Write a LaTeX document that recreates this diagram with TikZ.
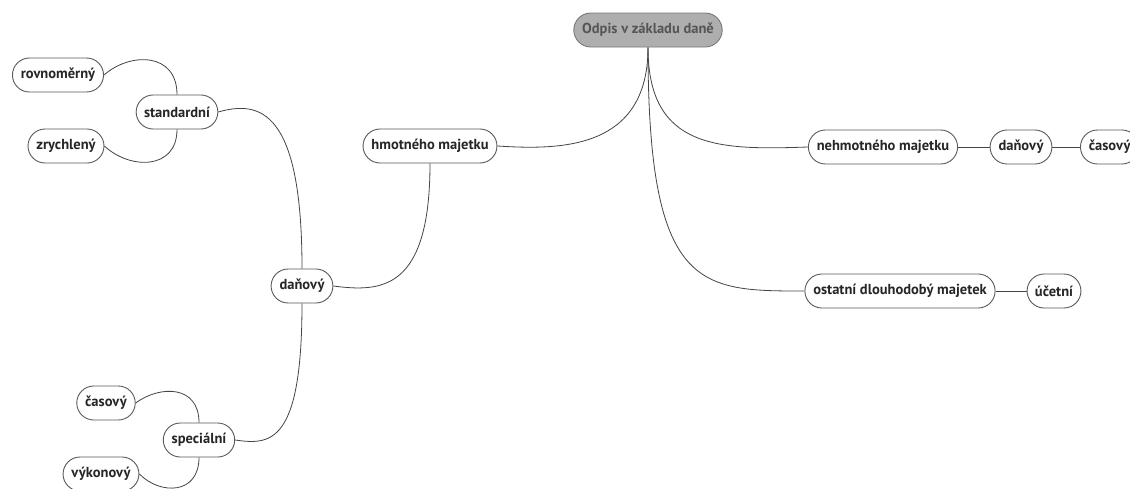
\documentclass[tikz,border=0pt]{standalone}
\usepackage{fontspec}
\setmainfont{PT Sans}
\usetikzlibrary{shapes.misc}
\pgfdeclarelayer{bg}
\pgfsetlayers{bg,main}
\definecolor{edge}{HTML}{444444}
\definecolor{nodeline}{HTML}{5A5A5A}
\definecolor{rootfill}{HTML}{AEAEAE}
\definecolor{rootline}{HTML}{7A7A7A}
\definecolor{roottext}{HTML}{555555}
\tikzset{
  topic/.style={draw=nodeline, line width=0.9pt, rounded rectangle, fill=white,
    font=\bfseries\fontsize{14.5}{16}\selectfont, text=black!85,
    minimum height=34pt, inner xsep=7pt, inner ysep=0pt},
  rootnode/.style={topic, fill=rootfill, draw=rootline, text=roottext},
  link/.style={draw=edge, line width=0.8pt}
}
\begin{document}
\begin{tikzpicture}[x=1pt,y=-1pt]
\useasboundingbox (0,0) rectangle (1130,488);
% nodes
\node[rootnode] (root) at (648,30) {Odpis v základu daně};
\node[topic] (hm) at (430,146) {hmotného majetku};
\node[topic] (nehm) at (883,147) {nehmotného majetku};
\node[topic] (dan2) at (1021,147) {daňový};
\node[topic, anchor=west] (cas2) at (1080,147) {časový};
\node[topic] (ost) at (900,291) {ostatní dlouhodobý majetek};
\node[topic] (uce) at (1054,291) {účetní};
\node[topic] (dan1) at (302,286) {daňový};
\node[topic] (std) at (177,112) {standardní};
\node[topic] (rov) at (58,75) {rovnoměrný};
\node[topic] (zry) at (66,146) {zrychlený};
\node[topic] (spe) at (199,440) {speciální};
\node[topic] (cas1) at (106,403) {časový};
\node[topic] (vyk) at (101,474) {výkonový};
% connectors
\begin{pgfonlayer}{bg}
\fill[white] (0,0) rectangle (1130,488);
\draw[link] (root.south) .. controls (648,150) and (560,150) .. (hm.east);
\draw[link] (root.south) .. controls (648,150) and (720,150) .. (nehm.west);
\draw[link] (root.south) .. controls (648,291) and (700,291) .. (ost.west);
\draw[link] (nehm.east) -- (dan2.west);
\draw[link] (dan2.east) -- (cas2.west);
\draw[link] (ost.east) -- (uce.west);
\draw[link] (hm.south) .. controls (430,292) and (380,292) .. (dan1.east);
\draw[link] (dan1.north) .. controls (302,110) and (260,100) .. (std.east);
\draw[link] (dan1.south) .. controls (302,445) and (270,445) .. (spe.east);
\draw[link] (std.north) .. controls (177,52) and (130,52) .. (rov.east);
\draw[link] (std.south) .. controls (177,170) and (130,170) .. (zry.east);
\draw[link] (spe.north) .. controls (199,385) and (160,385) .. (cas1.east);
\draw[link] (spe.south) .. controls (199,495) and (160,495) .. (vyk.east);
\end{pgfonlayer}
\end{tikzpicture}
\end{document}
